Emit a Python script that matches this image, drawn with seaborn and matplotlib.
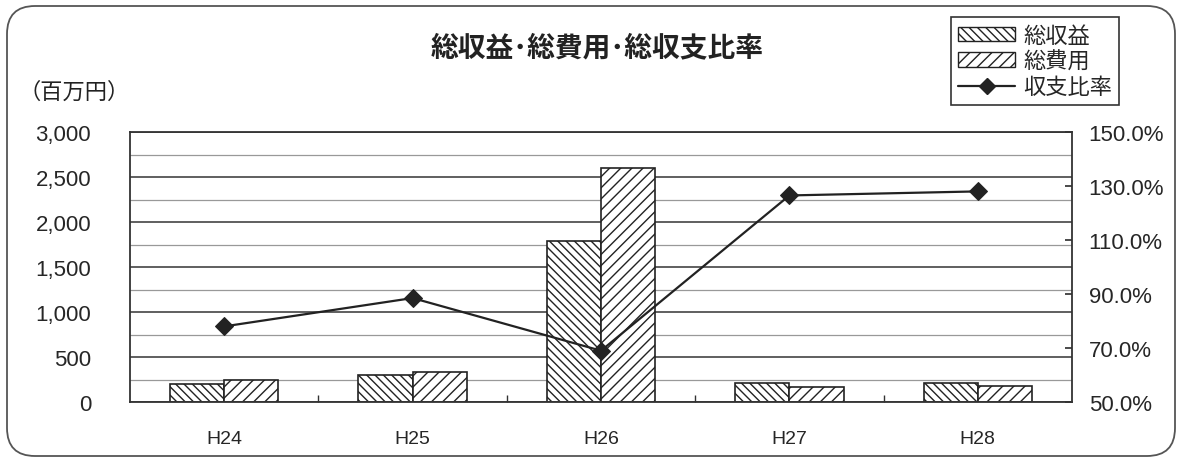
import numpy as np
import pandas as pd
import matplotlib
matplotlib.use("Agg")
import matplotlib.pyplot as plt
import seaborn as sns
from matplotlib.patches import Patch, FancyBboxPatch
from matplotlib.lines import Line2D
from matplotlib.transforms import IdentityTransform
from matplotlib.ticker import MultipleLocator, FixedLocator, FuncFormatter

# Fiscal years and values (million yen / percent)
years = ["H24", "H25", "H26", "H27", "H28"]
revenue = [195, 295, 1790, 210, 215]      # 総収益
expense = [245, 330, 2600, 170, 175]      # 総費用
ratio = [78.0, 88.5, 69.0, 126.5, 128.0]  # 収支比率 (%)

sns.set_theme(style="white")
plt.rcParams["font.family"] = ["Noto Sans CJK JP", "DejaVu Sans"]
plt.rcParams["hatch.linewidth"] = 1.0
plt.rcParams["hatch.color"] = "#222222"
NUM_FONT = ["Liberation Sans", "DejaVu Sans"]

df = pd.DataFrame({
    "year": years * 2,
    "value": revenue + expense,
    "kind": ["総収益"] * len(years) + ["総費用"] * len(years),
})

fig = plt.figure(figsize=(11.84, 4.64), dpi=100)
ax = fig.add_axes([130 / 1184, 1 - 403 / 464, 942 / 1184, 270 / 464])

sns.barplot(data=df, x="year", y="value", hue="kind", ax=ax,
            palette=["white", "white"], edgecolor="#222222", linewidth=1.2,
            width=0.575, legend=False, errorbar=None, saturation=1)

hatches = ["\\\\\\\\", "///"]
for cont, h in zip(ax.containers, hatches):
    for bar in cont:
        bar.set_hatch(h)

ax.set_ylim(0, 3000)
ax.set_xlim(-0.5, len(years) - 0.5)
ax.yaxis.set_major_locator(MultipleLocator(500))
ax.yaxis.set_minor_locator(MultipleLocator(250))
ax.yaxis.set_major_formatter(FuncFormatter(lambda v, p: f"{int(v):,}"))
ax.grid(True, which="major", axis="y", color="#444444", linewidth=1.2)
ax.grid(True, which="minor", axis="y", color="#999999", linewidth=0.9)
ax.set_axisbelow(True)
ax.set_xlabel("")
ax.set_ylabel("")
ax.set_xticks(np.arange(len(years)))
ax.set_xticks(np.arange(len(years) - 1) + 0.5, minor=True)
ax.tick_params(axis="x", which="major", length=0, pad=20, labelsize=14)
ax.tick_params(axis="x", which="minor", direction="in", length=5, color="#333333", bottom=True)
ax.tick_params(axis="y", which="both", length=0, pad=28, labelsize=16)
for lab in ax.get_xticklabels() + ax.get_yticklabels():
    lab.set_fontfamily(NUM_FONT)
for s in ax.spines.values():
    s.set_visible(True)
    s.set_color("#333333")
    s.set_linewidth(1.3)

# Ratio line on the secondary axis
ax2 = ax.twinx()
sns.lineplot(x=np.arange(len(years)), y=ratio, ax=ax2, color="#222222",
             linewidth=1.6, marker="D", markersize=9, markeredgecolor="#222222")
ax2.set_ylim(50, 150)
ax2.yaxis.set_major_locator(FixedLocator(np.arange(50, 151, 20)))
ax2.yaxis.set_major_formatter(FuncFormatter(lambda v, p: f"{v:.1f}%"))
ax2.tick_params(axis="y", direction="in", length=5, color="#333333", pad=12, labelsize=16, right=True)
for lab in ax2.get_yticklabels():
    lab.set_fontfamily(NUM_FONT)
ax2.grid(False)
ax2.set_xlim(-0.5, len(years) - 0.5)
for s in ax2.spines.values():
    s.set_visible(False)

# Titles
fig.text(597 / 1184, 1 - 48 / 464, "総収益･総費用･総収支比率", ha="center", va="center",
         fontsize=20, fontweight="bold", color="#222222")
fig.text(18 / 1184, 1 - 92 / 464, "（百万円）", ha="left", va="center",
         fontsize=16, color="#222222")

# Legend
handles = [
    Patch(facecolor="white", edgecolor="#222222", hatch="\\\\\\\\", label="総収益"),
    Patch(facecolor="white", edgecolor="#222222", hatch="///", label="総費用"),
    Line2D([], [], color="#222222", linewidth=1.6, marker="D", markersize=8, label="収支比率"),
]
leg = fig.legend(handles=handles, loc="upper left",
                 bbox_to_anchor=(951 / 1184, 1 - 18 / 464), fontsize=16,
                 frameon=True, fancybox=False, edgecolor="#333333", framealpha=1,
                 handlelength=2.6, handleheight=0.6, labelspacing=0.12,
                 handletextpad=0.35, borderpad=0.3, borderaxespad=0)
leg.get_frame().set_linewidth(1.2)

# Rounded outer frame
frame = FancyBboxPatch((7, 7), 1168, 450, boxstyle="round,pad=0,rounding_size=28",
                       transform=IdentityTransform(), facecolor="none",
                       edgecolor="#555555", linewidth=1.3)
fig.add_artist(frame)

fig.savefig("out.png", dpi=100)
